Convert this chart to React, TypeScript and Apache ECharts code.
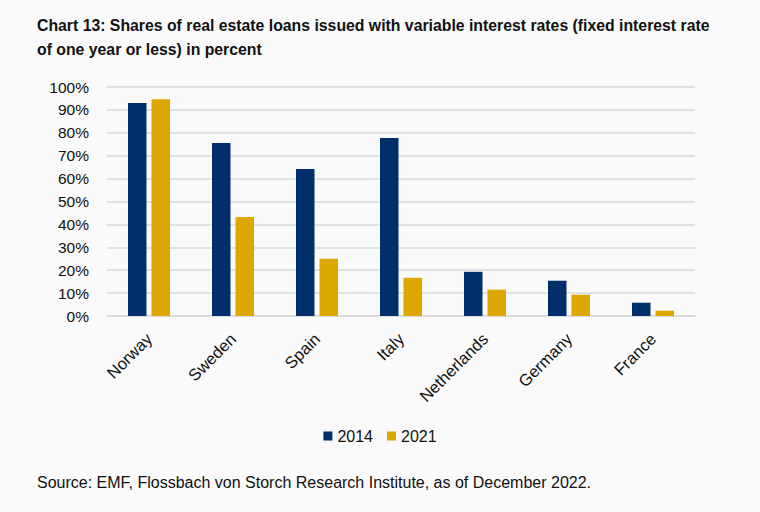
import React, { useEffect, useRef } from "react";
import * as echarts from "echarts";

const categories = ["Norway", "Sweden", "Spain", "Italy", "Netherlands", "Germany", "France"];
const values2014 = [93, 75.5, 64.2, 77.7, 19.3, 15.4, 5.8];
const values2021 = [94.6, 43.2, 25.0, 16.7, 11.5, 9.3, 2.3];
const yTicks = [0, 10, 20, 30, 40, 50, 60, 70, 80, 90, 100];
const titleLine1 = "Chart 13: Shares of real estate loans issued with variable interest rates (fixed interest rate";
const titleLine2 = "of one year or less) in percent";
const sourceText = "Source: EMF, Flossbach von Storch Research Institute, as of December 2022.";

const FONT = '"Liberation Sans", Arial, sans-serif';

export default function App() {
  const ref = useRef<HTMLDivElement>(null);
  useEffect(() => {
    if (!ref.current) return;
    const chart = echarts.init(ref.current, undefined, { renderer: "svg" });
    chart.setOption({
      animation: false,
      backgroundColor: "#FAFAFA",
      textStyle: { fontFamily: FONT },
      grid: { left: 107, right: 65, top: 87, bottom: 196, containLabel: false },
      legend: {
        bottom: 63,
        left: "center",
        itemWidth: 9,
        itemHeight: 9,
        itemGap: 14,
        icon: "rect",
        textStyle: { fontFamily: FONT, fontSize: 16, color: "#111" },
        data: ["2014", "2021"],
      },
      xAxis: {
        type: "category",
        data: categories,
        axisLine: { lineStyle: { color: "#D9D9D9", width: 1.5 } },
        axisTick: { show: false },
        axisLabel: { rotate: 45, fontSize: 16.5, color: "#111", margin: 20, fontFamily: FONT },
      },
      yAxis: {
        type: "value",
        min: yTicks[0],
        max: yTicks[yTicks.length - 1],
        interval: 10,
        axisLine: { show: false },
        axisTick: { show: false },
        axisLabel: { formatter: "{value}%", fontSize: 15.5, color: "#111", margin: 18, fontFamily: FONT },
        splitLine: { lineStyle: { color: "#D9D9D9", width: 1.5 } },
      },
      series: [
        { name: "2014", type: "bar", data: values2014, barWidth: "22%", barGap: "27%", itemStyle: { color: "#002F6C" } },
        { name: "2021", type: "bar", data: values2021, barWidth: "22%", itemStyle: { color: "#DDA600" } },
      ],
      graphic: [
        {
          type: "text",
          x: 37,
          y: 25,
          style: { text: titleLine1, fontFamily: FONT, fontSize: 15.8, fontWeight: "bold", fill: "#111", verticalAlign: "middle" },
        },
        {
          type: "text",
          x: 37,
          y: 49,
          style: { text: titleLine2, fontFamily: FONT, fontSize: 15.8, fontWeight: "bold", fill: "#111", verticalAlign: "middle" },
        },
        {
          type: "text",
          x: 37,
          y: 482,
          style: { text: sourceText, fontFamily: FONT, fontSize: 16, fill: "#111", verticalAlign: "middle" },
        },
      ],
    });
    return () => chart.dispose();
  }, []);
  return <div ref={ref} style={{ position: "absolute", left: 0, top: 0, width: 760, height: 512 }} />;
}
